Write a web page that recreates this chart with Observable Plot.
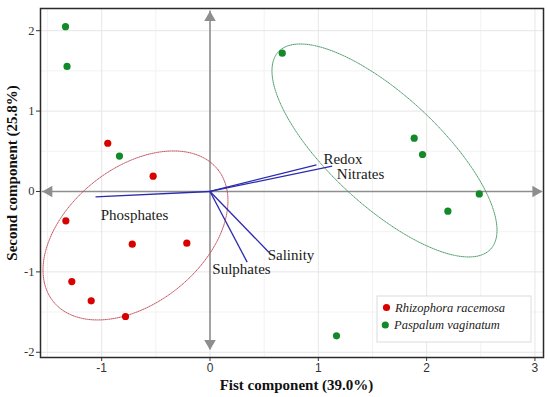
<!DOCTYPE html>
<html>
<head>
<meta charset="utf-8">
<script src="https://cdn.jsdelivr.net/npm/d3@7"></script>
<script src="https://cdn.jsdelivr.net/npm/@observablehq/plot@0.6"></script>
<style>
  html, body { margin: 0; padding: 0; background: #fff; }
  #chart { width: 550px; height: 397px; }
</style>
</head>
<body>
<div id="chart"></div>
<script>
// ---- Data ----
const species = ["Rhizophora racemosa", "Paspalum vaginatum"];
const speciesColors = ["#d90000", "#138a2a"];
const ellipseColors = ["#c45560", "#4e9e6c"];

const redX = [-0.944, -0.525, -1.331, -0.718, -0.214, -1.276, -1.097, -0.780];
const redY = [0.600, 0.190, -0.365, -0.655, -0.643, -1.120, -1.360, -1.555];
const greenX = [-1.334, -1.320, -0.836, 0.667, 1.885, 1.962, 2.486, 2.196, 1.168];
const greenY = [2.050, 1.555, 0.440, 1.720, 0.663, 0.460, -0.030, -0.245, -1.795];

// ellipse: centre and two conjugate half-axis vectors (data units)
const ellipseCX = [-0.688, 1.611];
const ellipseCY = [-0.547, 0.510];
const ellipseU = [[0.759, 0.822], [0.980, -1.227]];
const ellipseV = [[-0.391, 0.655], [0.345, 0.499]];

// loading vectors
const varNames = ["Phosphates", "Redox", "Nitrates", "Salinity", "Sulphates"];
const varX = [-1.057, 0.983, 1.128, 0.543, 0.343];
const varY = [-0.068, 0.332, 0.315, -0.755, -0.879];
const labelX = [-0.697, 1.228, 1.390, 0.748, 0.291];
const labelY = [-0.299, 0.407, 0.220, -0.796, -0.970];

// axis arrow tips
const arrowXEnds = [-1.547, 3.067];
const arrowYEnds = [-1.969, 2.243];

const xTicks = [-1, 0, 1, 2, 3];
const yTicks = [-2, -1, 0, 1, 2];
const xMinor = [-1.5, -0.5, 0.5, 1.5, 2.5];
const yMinor = [-1.5, -0.5, 0.5, 1.5];
const xDomain = [-1.565, 3.079];
const yDomain = [-2.065, 2.276];

const xTitle = "Fist component (39.0%)";
const yTitle = "Second component (25.8%)";

// ---- Build tables ----
const points = [
  ...redX.map((x, i) => ({x, y: redY[i], sp: 0})),
  ...greenX.map((x, i) => ({x, y: greenY[i], sp: 1}))
];
const ellipsePts = [];
for (let k = 0; k < 2; k++) {
  const n = 160;
  for (let j = 0; j <= n; j++) {
    const t = 2 * Math.PI * j / n;
    ellipsePts.push({
      k,
      x: ellipseCX[k] + ellipseU[k][0] * Math.cos(t) + ellipseV[k][0] * Math.sin(t),
      y: ellipseCY[k] + ellipseU[k][1] * Math.cos(t) + ellipseV[k][1] * Math.sin(t)
    });
  }
}
const vectors = varNames.map((name, i) => ({name, x: varX[i], y: varY[i], lx: labelX[i], ly: labelY[i]}));

const grey = "#8e8e8e";

function legendMark(...args) {
  const dims = args.find(a => a && typeof a === "object" && "marginLeft" in a && "width" in a);
  const g = d3.create("svg:g");
  const right = dims.width - dims.marginRight;
  const bottom = dims.height - dims.marginBottom;
  const x0 = right - 166, y0 = bottom - 61, w = 154, h = 46;
  g.append("rect").attr("x", x0).attr("y", y0).attr("width", w).attr("height", h)
    .attr("fill", "#fff").attr("stroke", "#dcdcdc").attr("stroke-width", 1);
  species.forEach((s, i) => {
    const cy = y0 + 11.5 + i * 17.5;
    g.append("circle").attr("cx", x0 + 9.5 - i * 1.2).attr("cy", cy).attr("r", 3.6).attr("fill", speciesColors[i]);
    g.append("text").attr("x", x0 + 18 - i * 1).attr("y", cy + 4.2)
      .attr("text-anchor", "start")
      .attr("font-family", "'Liberation Serif', 'DejaVu Serif', serif")
      .attr("font-style", "italic").attr("font-size", 12.5).attr("fill", "#222").text(s);
  });
  return g.node();
}

const chart = Plot.plot({
  width: 550,
  height: 397,
  marginLeft: 40,
  marginRight: 7,
  marginTop: 8,
  marginBottom: 40,
  style: {background: "#fff", overflow: "visible"},
  x: {domain: xDomain},
  y: {domain: yDomain},
  marks: [
    Plot.gridX(xMinor, {stroke: "#f2f2f2", strokeOpacity: 1}),
    Plot.gridY(yMinor, {stroke: "#f2f2f2", strokeOpacity: 1}),
    Plot.gridX(xTicks, {stroke: "#e6e6e6", strokeOpacity: 1}),
    Plot.gridY(yTicks, {stroke: "#e6e6e6", strokeOpacity: 1}),
    Plot.axisX({ticks: xTicks, tickSize: 4, tickPadding: 2, fontSize: 12, fontFamily: "'Liberation Sans', Arial, sans-serif", fill: "#333", stroke: "#333", label: null, tickFormat: d => d < 0 ? "-" + Math.abs(d) : String(d)}),
    Plot.axisY({ticks: yTicks, tickSize: 4, tickPadding: 2, fontSize: 12.5, fontFamily: "'Liberation Serif', serif", fill: "#333", stroke: "#333", label: null, tickFormat: d => d < 0 ? "-" + Math.abs(d) : String(d)}),
    // axis arrows
    Plot.ruleY([0], {x1: arrowXEnds[0], x2: arrowXEnds[1], stroke: grey, strokeWidth: 1.6}),
    Plot.ruleX([0], {y1: arrowYEnds[0], y2: arrowYEnds[1], stroke: grey, strokeWidth: 1.6}),
    Plot.dot([arrowXEnds[0]], {x: d => d, y: () => 0, symbol: "triangle", r: 4.3, rotate: -90, dx: 6.5, fill: grey, stroke: "none"}),
    Plot.dot([arrowXEnds[1]], {x: d => d, y: () => 0, symbol: "triangle", r: 4.3, rotate: 90, dx: -6.5, fill: grey, stroke: "none"}),
    Plot.dot([arrowYEnds[1]], {x: () => 0, y: d => d, symbol: "triangle", r: 4.3, rotate: 0, dy: 6.5, fill: grey, stroke: "none"}),
    Plot.dot([arrowYEnds[0]], {x: () => 0, y: d => d, symbol: "triangle", r: 4.3, rotate: 180, dy: -6.5, fill: grey, stroke: "none"}),
    // ellipses
    Plot.line(ellipsePts.filter(d => d.k === 0), {x: "x", y: "y", stroke: ellipseColors[0], strokeWidth: 1, strokeDasharray: "1,1", curve: "linear"}),
    Plot.line(ellipsePts.filter(d => d.k === 1), {x: "x", y: "y", stroke: ellipseColors[1], strokeWidth: 1, strokeDasharray: "1,1", curve: "linear"}),
    // loading vectors
    Plot.link(vectors, {x1: () => 0, y1: () => 0, x2: "x", y2: "y", stroke: "#2b2bb0", strokeWidth: 1.3}),
    Plot.text(vectors, {x: "lx", y: "ly", text: "name", fontSize: 15, fontFamily: "'Liberation Serif', serif", fill: "#1a1a1a", textAnchor: "middle", lineAnchor: "middle"}),
    // points
    Plot.dot(points, {x: "x", y: "y", fill: d => speciesColors[d.sp], r: 3.6, stroke: "none"}),
    Plot.frame({stroke: "#2a2a2a", strokeWidth: 1.5}),
    // titles
    Plot.text([xTitle], {frameAnchor: "bottom", text: d => d, dy: 28, dx: 4.5, textAnchor: "middle", lineAnchor: "middle", fontSize: 15, fontWeight: "bold", fontFamily: "'Liberation Serif', serif", fill: "#111"}),
    Plot.text([yTitle], {frameAnchor: "left", text: d => d, rotate: -90, dx: -28.5, dy: -10, textAnchor: "middle", lineAnchor: "middle", fontSize: 15, fontWeight: "bold", fontFamily: "'Liberation Serif', serif", fill: "#111"}),
    legendMark
  ]
});
document.getElementById("chart").appendChild(chart);
</script>
</body>
</html>
